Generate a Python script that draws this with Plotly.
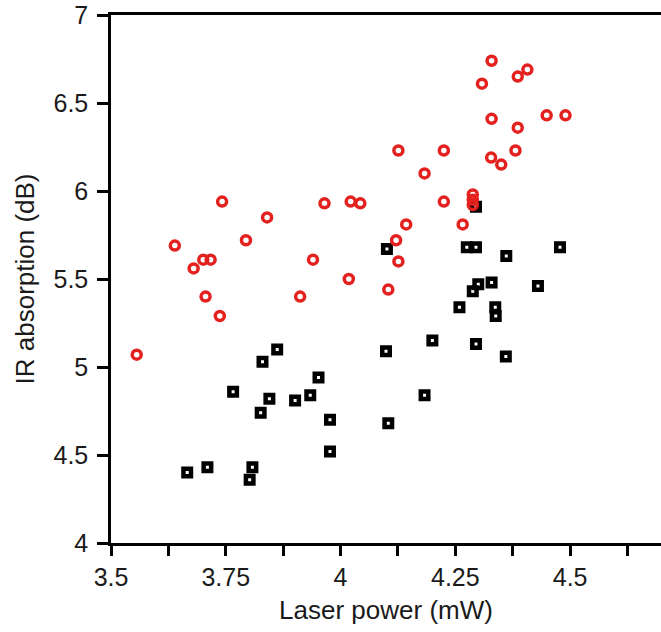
import plotly.graph_objects as go

# Red circles series
red_x = [3.556, 3.639, 3.680, 3.701, 3.717, 3.706, 3.737, 3.742, 3.794, 3.840,
         3.912, 3.940, 3.965, 4.018, 4.022, 4.043, 4.104, 4.121, 4.126, 4.126,
         4.143, 4.183, 4.225, 4.225, 4.266, 4.288, 4.288, 4.288, 4.308, 4.329,
         4.329, 4.328, 4.350, 4.381, 4.386, 4.386, 4.407, 4.449, 4.490]
red_y = [5.07, 5.69, 5.56, 5.61, 5.61, 5.40, 5.29, 5.94, 5.72, 5.85,
         5.40, 5.61, 5.93, 5.50, 5.94, 5.93, 5.44, 5.72, 6.23, 5.60,
         5.81, 6.10, 6.23, 5.94, 5.81, 5.98, 5.95, 5.92, 6.61, 6.74,
         6.41, 6.19, 6.15, 6.23, 6.36, 6.65, 6.69, 6.43, 6.43]

# Black squares series
blk_x = [3.666, 3.710, 3.766, 3.802, 3.808, 3.826, 3.830, 3.845, 3.862, 3.901,
         3.934, 3.952, 3.977, 3.977, 4.099, 4.101, 4.104, 4.183, 4.200, 4.259,
         4.275, 4.288, 4.295, 4.295, 4.300, 4.295, 4.329, 4.337, 4.338, 4.361,
         4.360, 4.430, 4.478]
blk_y = [4.40, 4.43, 4.86, 4.36, 4.43, 4.74, 5.03, 4.82, 5.10, 4.81,
         4.84, 4.94, 4.70, 4.52, 5.09, 5.67, 4.68, 4.84, 5.15, 5.34,
         5.68, 5.43, 5.68, 5.91, 5.47, 5.13, 5.48, 5.34, 5.29, 5.63,
         5.06, 5.46, 5.68]

x_ticks = [3.5, 3.75, 4.0, 4.25, 4.5]
x_ticklabels = ["3.5", "3.75", "4", "4.25", "4.5"]
x_minor = [3.625, 3.875, 4.125, 4.375, 4.625]
y_ticks = [4, 4.5, 5, 5.5, 6, 6.5, 7]
y_ticklabels = ["4", "4.5", "5", "5.5", "6", "6.5", "7"]

fam = "Liberation Sans, Arial, sans-serif"
txt = "#1a1a1a"

fig = go.Figure()
fig.add_trace(go.Scatter(
    x=blk_x, y=blk_y, mode="markers",
    marker=dict(symbol="square-open", size=7.5, color="black",
                line=dict(color="black", width=4.5)),
    showlegend=False, hoverinfo="skip"))
fig.add_trace(go.Scatter(
    x=red_x, y=red_y, mode="markers",
    marker=dict(symbol="circle-open", size=9, color="#e3211f",
                line=dict(color="#e3211f", width=3.5)),
    showlegend=False, hoverinfo="skip"))

fig.update_layout(
    width=661, height=632,
    margin=dict(l=111, r=0, t=15, b=89),
    paper_bgcolor="white", plot_bgcolor="white",
    font=dict(family=fam, color=txt),
)
fig.update_xaxes(
    range=[3.5, 4.698], showgrid=False, zeroline=False, automargin=False,
    showline=True, linecolor="black", linewidth=2.5, mirror=True,
    ticks="outside", ticklen=10, tickwidth=2.5, tickcolor="black",
    tickvals=x_ticks, ticktext=x_ticklabels, ticklabeloverflow="allow",
    tickfont=dict(size=25, family=fam, color=txt),
    minor=dict(tickvals=x_minor, ticks="outside", ticklen=10, tickwidth=2.5, tickcolor="black"),
    title=dict(text="Laser power (mW)", font=dict(size=26, family=fam, color=txt), standoff=12),
)
fig.update_yaxes(
    range=[4, 7], showgrid=False, zeroline=False, automargin=False,
    showline=True, linecolor="black", linewidth=2.5, mirror=False,
    ticks="outside", ticklen=11, tickwidth=2.5, tickcolor="black",
    tickvals=y_ticks, ticktext=y_ticklabels, ticklabelstandoff=4,
    ticklabeloverflow="allow",
    tickfont=dict(size=25, family=fam, color=txt),
    title=dict(text="IR absorption (dB)", font=dict(size=26, family=fam, color=txt), standoff=12),
)

fig.write_html("out.html", config={"displayModeBar": False},
               post_script="document.body.style.margin='0';")
